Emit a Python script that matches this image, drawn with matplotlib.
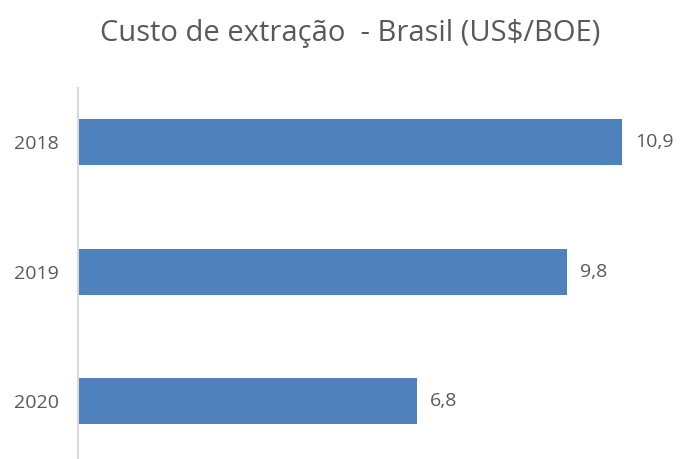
import matplotlib.pyplot as plt

# dados
anos = ['2018', '2019', '2020']
custos = [10.9, 9.8, 6.8]
rotulos = ['10,9', '9,8', '6,8']

plt.rcParams['font.family'] = ['Open Sans', 'DejaVu Sans']

fig = plt.figure(figsize=(6.8, 4.59), dpi=100)
fig.patch.set_facecolor('white')
ax = fig.add_axes([78 / 680, 0, 602 / 680, 371 / 459])

pos = list(range(len(anos)))
bars = ax.barh(pos, custos, height=0.355, color='#4F81BD', edgecolor='none')

for b, txt in zip(bars, rotulos):
    ax.annotate(txt, (b.get_width(), b.get_y() + b.get_height() / 2),
                xytext=(13, 0), textcoords='offset pixels',
                ha='left', va='center', fontsize=14, color='#595959')

ax.set_yticks(pos)
ax.set_yticklabels(anos, fontsize=14, color='#595959')
ax.tick_params(axis='y', length=0, pad=14)
ax.set_xticks([])
ax.set_ylim(2.448, -0.42)
ax.set_xlim(0, 602 / 49.9)

for s in ['top', 'right', 'bottom']:
    ax.spines[s].set_visible(False)
ax.spines['left'].set_color('#d9d9d9')
ax.spines['left'].set_linewidth(1.5)

fig.text(0.515, 1 - 33 / 459, 'Custo de extração  - Brasil (US$/BOE)',
         ha='center', va='center', fontsize=21, color='#595959')

fig.savefig('out.png', dpi=100, facecolor='white')
